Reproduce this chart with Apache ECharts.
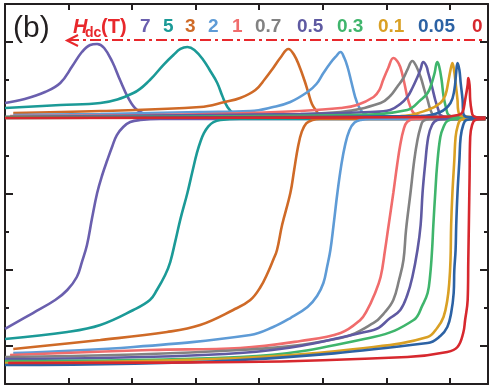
<!DOCTYPE html>
<html>
<head>
<meta charset="utf-8">
<script src="https://cdn.jsdelivr.net/npm/echarts@6/dist/echarts.min.js"></script>
<style>html,body{margin:0;padding:0;background:#fff}#c{width:492px;height:389px}</style>
</head>
<body>
<div id="c"></div>
<script>
// Field labels (T) and colours
const fieldLabels = ['7','5','3','2','1','0.7','0.5','0.3','0.1','0.05','0'];
const fieldColors = ['#6a5fae','#1b9a97','#cf6a27','#5e9bd6','#f06c6c','#828282','#5f5aa2','#3fb56c','#d9a024','#2c62a4','#d7282e'];
// x tick and y tick values
const xTicks = [1,2,3,4,5,6,7];
const yMajorTicks = [-3,-2,-1,0,1];
const yMinorTicks = [-2.5,-1.5,-0.5,0.5];

// chi'' (upper peaks) for each field, [x, y]
const chi2_7 = [[0,0.197],[0.31,0.25],[0.63,0.342],[0.87,0.461],[1.06,0.684],[1.21,0.868],[1.34,0.961],[1.45,0.974],[1.56,0.921],[1.69,0.737],[1.81,0.5],[1.94,0.263],[2.08,0.105],[2.28,0.039],[2.60,0.013],[3.86,0.007],[7.56,0]];
const chi2_5 = [[0,0.132],[0.87,0.171],[1.50,0.197],[2.02,0.329],[2.28,0.5],[2.49,0.697],[2.65,0.829],[2.76,0.908],[2.87,0.934],[2.98,0.895],[3.12,0.763],[3.23,0.618],[3.34,0.461],[3.42,0.289],[3.50,0.145],[3.59,0.066],[3.70,0.039],[4.02,0.013],[7.56,0.007]];
const chi2_3 = [[0.13,0.066],[1.50,0.092],[3.07,0.145],[3.46,0.211],[3.70,0.263],[3.94,0.368],[4.09,0.513],[4.22,0.658],[4.33,0.789],[4.46,0.908],[4.55,0.829],[4.63,0.684],[4.71,0.5],[4.77,0.342],[4.83,0.184],[4.90,0.092],[4.96,0.039],[5.20,0.013],[7.56,0.007]];
const chi2_2 = [[0.13,0.039],[1.50,0.053],[3.07,0.079],[3.86,0.092],[4.22,0.145],[4.49,0.211],[4.76,0.342],[4.90,0.447],[5.01,0.592],[5.12,0.724],[5.20,0.803],[5.28,0.868],[5.34,0.789],[5.39,0.671],[5.45,0.474],[5.51,0.276],[5.57,0.145],[5.64,0.066],[5.78,0.026],[7.56,0.007]];
const chi2_1 = [[0.08,0.026],[2.28,0.039],[3.86,0.066],[4.65,0.092],[5.28,0.132],[5.54,0.171],[5.80,0.276],[5.89,0.368],[5.95,0.5],[6.03,0.658],[6.11,0.789],[6.17,0.75],[6.22,0.671],[6.28,0.474],[6.33,0.276],[6.38,0.145],[6.43,0.066],[6.54,0.026],[7.56,0.007]];
const chi2_07 = [[0,0.013],[3.86,0.039],[5.28,0.079],[5.91,0.197],[6.06,0.289],[6.17,0.408],[6.27,0.526],[6.33,0.632],[6.41,0.75],[6.47,0.684],[6.54,0.539],[6.60,0.368],[6.65,0.237],[6.69,0.118],[6.74,0.039],[6.85,0.013],[7.56,0.007]];
const chi2_05 = [[0,0.013],[4.65,0.053],[5.75,0.079],[6.06,0.105],[6.22,0.184],[6.33,0.276],[6.41,0.395],[6.49,0.539],[6.54,0.645],[6.58,0.737],[6.63,0.684],[6.66,0.592],[6.72,0.408],[6.77,0.237],[6.82,0.105],[6.85,0.039],[6.96,0.013],[7.56,0.007]];
const chi2_03 = [[0,0.013],[5.43,0.039],[6.33,0.105],[6.54,0.237],[6.65,0.329],[6.71,0.447],[6.76,0.592],[6.80,0.737],[6.83,0.684],[6.87,0.5],[6.90,0.289],[6.94,0.132],[6.98,0.039],[7.09,0.013],[7.56,0.007]];
const chi2_01 = [[0,0],[6.22,0.026],[6.65,0.105],[6.85,0.197],[6.93,0.303],[6.98,0.5],[7.01,0.632],[7.04,0.724],[7.07,0.605],[7.09,0.461],[7.12,0.237],[7.13,0.105],[7.18,0.026],[7.56,0.007]];
const chi2_005 = [[0,0],[6.54,0.026],[6.85,0.079],[7.01,0.197],[7.07,0.368],[7.10,0.605],[7.12,0.724],[7.15,0.632],[7.17,0.461],[7.20,0.237],[7.21,0.066],[7.28,0.013],[7.56,0.007]];
const chi2_0 = [[0,0],[6.85,0.013],[7.13,0.039],[7.20,0.079],[7.24,0.237],[7.28,0.434],[7.29,0.526],[7.31,0.434],[7.32,0.237],[7.34,0.105],[7.37,0.026],[7.48,0.007],[7.56,0.007]];

// chi' (lower steps) for each field, [x, y]
const chi1_7 = [[0,-2.776],[0.44,-2.566],[0.79,-2.395],[0.98,-2.263],[1.13,-2.092],[1.21,-1.895],[1.29,-1.671],[1.37,-1.316],[1.45,-0.987],[1.53,-0.75],[1.61,-0.553],[1.69,-0.368],[1.76,-0.224],[1.86,-0.118],[1.97,-0.053],[2.13,-0.026],[2.44,-0.013],[7.56,-0.013]];
const chi1_5 = [[0,-2.908],[0.98,-2.816],[1.50,-2.724],[2.02,-2.526],[2.28,-2.395],[2.39,-2.263],[2.52,-2.066],[2.60,-1.895],[2.68,-1.62],[2.76,-1.33],[2.87,-0.987],[2.95,-0.70],[3.02,-0.46],[3.08,-0.30],[3.13,-0.20],[3.20,-0.11],[3.28,-0.053],[3.39,-0.026],[3.70,-0.013],[7.56,-0.013]];
const chi1_3 = [[0.13,-3.039],[1.50,-2.921],[2.55,-2.816],[3.07,-2.724],[3.59,-2.526],[3.86,-2.395],[4.02,-2.224],[4.14,-2.026],[4.22,-1.868],[4.28,-1.737],[4.36,-1.408],[4.49,-0.987],[4.55,-0.684],[4.61,-0.38],[4.67,-0.18],[4.74,-0.07],[4.84,-0.025],[4.96,-0.013],[7.56,-0.013]];
const chi1_2 = [[0.13,-3.092],[2.02,-3.013],[3.86,-2.855],[4.22,-2.75],[4.49,-2.632],[4.76,-2.487],[4.91,-2.342],[5.01,-2.171],[5.07,-1.95],[5.12,-1.737],[5.17,-1.408],[5.23,-0.987],[5.29,-0.63],[5.35,-0.36],[5.42,-0.16],[5.50,-0.06],[5.60,-0.025],[5.75,-0.013],[7.56,-0.013]];
const chi1_1 = [[0.08,-3.118],[2.28,-3.053],[3.70,-3.026],[4.65,-2.934],[5.28,-2.829],[5.59,-2.658],[5.70,-2.526],[5.81,-2.329],[5.91,-2.092],[5.98,-1.737],[6.03,-1.447],[6.11,-0.987],[6.17,-0.618],[6.22,-0.35],[6.27,-0.16],[6.33,-0.05],[6.46,-0.013],[7.56,-0.013]];
const chi1_07 = [[0,-3.145],[3.70,-3.053],[5.28,-2.895],[5.80,-2.697],[5.98,-2.553],[6.11,-2.395],[6.20,-2.132],[6.27,-1.868],[6.31,-1.474],[6.38,-0.987],[6.44,-0.553],[6.49,-0.289],[6.54,-0.118],[6.58,-0.039],[6.69,-0.013],[7.56,-0.013]];
const chi1_05 = [[0,-3.171],[3.70,-3.092],[5.80,-2.789],[6.06,-2.632],[6.22,-2.526],[6.33,-2.329],[6.41,-2.092],[6.49,-1.737],[6.54,-1.408],[6.57,-0.987],[6.61,-0.618],[6.66,-0.25],[6.72,-0.092],[6.80,-0.026],[6.93,-0.013],[7.56,-0.013]];
const chi1_03 = [[0,-3.197],[3.70,-3.145],[5.80,-2.882],[6.43,-2.658],[6.57,-2.461],[6.65,-2.303],[6.69,-2.066],[6.72,-1.737],[6.74,-1.408],[6.77,-0.987],[6.80,-0.618],[6.85,-0.25],[6.90,-0.118],[6.96,-0.039],[7.09,-0.013],[7.56,-0.013]];
const chi1_01 = [[0,-3.224],[3.70,-3.158],[5.80,-3.013],[6.65,-2.882],[6.80,-2.763],[6.90,-2.618],[6.96,-2.395],[6.99,-2.171],[7.01,-1.868],[7.02,-1.408],[7.04,-0.987],[7.07,-0.553],[7.09,-0.25],[7.12,-0.118],[7.17,-0.026],[7.29,-0.013],[7.56,-0.013]];
const chi1_005 = [[0,-3.25],[3.70,-3.184],[6.65,-2.961],[6.85,-2.868],[6.96,-2.75],[7.02,-2.566],[7.06,-2.303],[7.07,-2.0],[7.09,-1.737],[7.10,-1.408],[7.12,-0.987],[7.15,-0.553],[7.17,-0.25],[7.21,-0.092],[7.26,-0.026],[7.40,-0.013],[7.56,-0.013]];
const chi1_0 = [[0.05,-3.224],[3.70,-3.211],[6.33,-3.145],[6.96,-3.079],[7.12,-3.013],[7.21,-2.829],[7.24,-2.658],[7.28,-2.395],[7.29,-1.868],[7.30,-1.342],[7.31,-0.776],[7.32,-0.25],[7.35,-0.092],[7.40,-0.026],[7.56,-0.013]];

const chi2All = [chi2_7,chi2_5,chi2_3,chi2_2,chi2_1,chi2_07,chi2_05,chi2_03,chi2_01,chi2_005,chi2_0];
const chi1All = [chi1_7,chi1_5,chi1_3,chi1_2,chi1_1,chi1_07,chi1_05,chi1_03,chi1_01,chi1_005,chi1_0];

const chart = echarts.init(document.getElementById('c'), null, {renderer:'canvas'});
const FRAME = '#231f20';
const series = [];
for (let i = 0; i < fieldLabels.length; i++) {
  [chi1All[i], chi2All[i]].forEach(d => {
    series.push({
      type:'line', data:d, showSymbol:false, smooth:0.4,
      lineStyle:{color:fieldColors[i], width:2.6}, itemStyle:{color:fieldColors[i]},
      silent:true, animation:false, z:2+i
    });
  });
}

function xAx(pos){
  return {type:'value', position:pos, min:0, max:7.6, gridIndex:0,
    axisLine:{show:true, onZero:false, lineStyle:{color:FRAME, width:2}},
    axisTick:{show:true, inside:true, length:6, customValues:xTicks, lineStyle:{color:FRAME, width:2}},
    axisLabel:{show:false}, splitLine:{show:false}};
}
function yAx(pos, vals, len, line){
  return {type:'value', position:pos, min:-3.5, max:1.5, gridIndex:0,
    axisLine:{show:line, onZero:false, lineStyle:{color:FRAME, width:2}},
    axisTick:{show:true, inside:true, length:len, customValues:vals, lineStyle:{color:FRAME, width:2}},
    axisLabel:{show:false}, splitLine:{show:false}};
}

const red = '#e8282c';
const font = "'Liberation Sans', Arial, sans-serif";
const graphic = [
  {type:'text', x:13, y:29, style:{text:'(b)', font:'30px '+font, fill:'#231f20', verticalAlign:'middle'}},
  {type:'text', x:73, y:27, style:{text:'H', font:'italic bold 20px '+font, fill:red, verticalAlign:'middle'}},
  {type:'text', x:85, y:33, style:{text:'dc', font:'bold 14px '+font, fill:red, verticalAlign:'middle'}},
  {type:'text', x:101, y:27, style:{text:'(T)', font:'bold 20px '+font, fill:red, verticalAlign:'middle'}},
  {type:'polyline', shape:{points:[[78,35],[67,40.5],[78,46]]}, style:{stroke:red, lineWidth:2, fill:null}},
  {type:'line', shape:{x1:68, y1:40, x2:482, y2:40}, style:{stroke:red, lineWidth:2, lineDash:[11,4,3,4]}}
];
const legendX = [140,163,185,208,232,255,297,337,378,418,472];
fieldLabels.forEach((t,i)=>{
  graphic.push({type:'text', x:legendX[i], y:27, style:{text:t, font:'bold 19px '+font, fill:fieldColors[i], verticalAlign:'middle'}});
});

chart.setOption({
  animation:false,
  backgroundColor:'#fff',
  grid:{left:5, right:4, top:4, bottom:5, containLabel:false},
  xAxis:[xAx('bottom'), xAx('top')],
  yAxis:[yAx('left',yMajorTicks,8,true), yAx('right',yMajorTicks,8,true), yAx('left',yMinorTicks,4,false), yAx('right',yMinorTicks,4,false)],
  series:series,
  graphic:graphic
});
</script>
</body>
</html>
